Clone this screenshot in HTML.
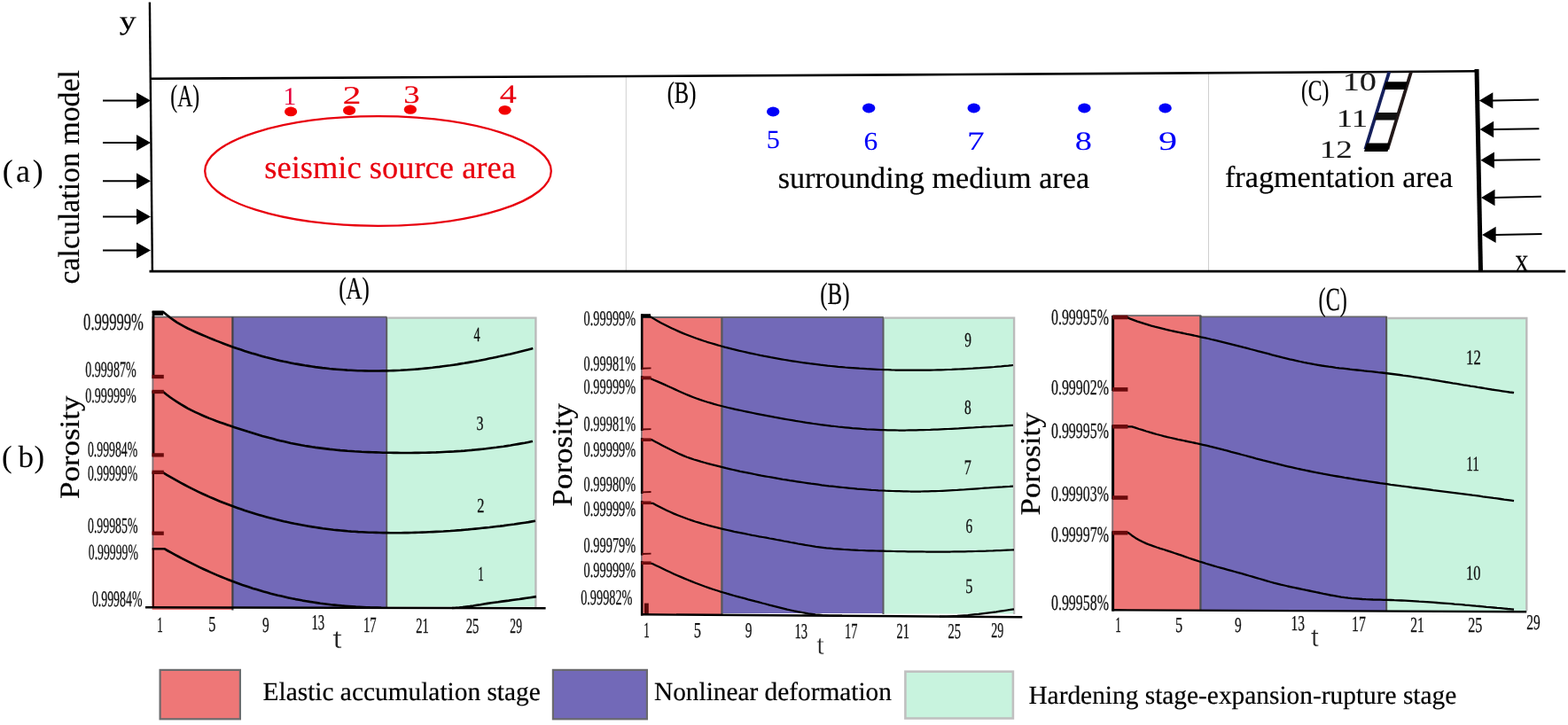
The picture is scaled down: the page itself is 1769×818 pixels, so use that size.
<!DOCTYPE html>
<html lang="en">
<head>
<meta charset="utf-8">
<title>Calculation model and porosity curves</title>
<style>
html,body{margin:0;padding:0;background:#fff;}
body{width:1769px;height:818px;overflow:hidden;font-family:"Liberation Serif",serif;}
svg{display:block;}
text{white-space:pre;text-rendering:geometricPrecision;}
</style>
</head>
<body>
<svg width="1769" height="818" viewBox="0 0 1769 818">
<rect x="0" y="0" width="1769" height="818" fill="#fff"/>
<g id="panel-a">
<line x1="706.3" y1="86" x2="706.3" y2="305" stroke="#cfcfcf" stroke-width="1" stroke-linecap="butt"/>
<line x1="1363.5" y1="82" x2="1363.5" y2="305" stroke="#cfcfcf" stroke-width="1" stroke-linecap="butt"/>
<line x1="168.9" y1="2.5" x2="171.9" y2="307" stroke="#000" stroke-width="2.4" stroke-linecap="butt"/>
<polyline points="170.5,88.8 620,86.5 1080,84 1540,81.2 1668,80.3" fill="none" stroke="#000" stroke-width="2.6"/>
<line x1="168.5" y1="306.2" x2="1766.2" y2="306.2" stroke="#000" stroke-width="2.8" stroke-linecap="butt"/>
<line x1="1666" y1="78" x2="1670.5" y2="307" stroke="#000" stroke-width="5" stroke-linecap="butt"/>
<line x1="116" y1="113.5" x2="155" y2="113.5" stroke="#000" stroke-width="2" stroke-linecap="butt"/>
<polygon points="170,113.5 154,104.5 154,122.5" fill="#000"/>
<line x1="116" y1="161" x2="155" y2="161" stroke="#000" stroke-width="2" stroke-linecap="butt"/>
<polygon points="170,161 154,152 154,170" fill="#000"/>
<line x1="116" y1="204.3" x2="155" y2="204.3" stroke="#000" stroke-width="2" stroke-linecap="butt"/>
<polygon points="170,204.3 154,195.3 154,213.3" fill="#000"/>
<line x1="116" y1="244.5" x2="155" y2="244.5" stroke="#000" stroke-width="2" stroke-linecap="butt"/>
<polygon points="170,244.5 154,235.5 154,253.5" fill="#000"/>
<line x1="116" y1="282.5" x2="155" y2="282.5" stroke="#000" stroke-width="2" stroke-linecap="butt"/>
<polygon points="170,282.5 154,273.5 154,291.5" fill="#000"/>
<line x1="1683.3" y1="113.4" x2="1736" y2="112.4" stroke="#000" stroke-width="2" stroke-linecap="butt"/>
<polygon points="1668.8,113.4 1684.3,104.2 1684.3,122.60000000000001" fill="#000"/>
<line x1="1684.1" y1="146" x2="1736.4" y2="145.2" stroke="#000" stroke-width="2" stroke-linecap="butt"/>
<polygon points="1669.6,146 1685.1,136.8 1685.1,155.2" fill="#000"/>
<line x1="1684.9" y1="180.8" x2="1737.5" y2="180" stroke="#000" stroke-width="2" stroke-linecap="butt"/>
<polygon points="1670.4,180.8 1685.9,171.60000000000002 1685.9,190.0" fill="#000"/>
<line x1="1685.5" y1="223" x2="1738.8" y2="221.8" stroke="#000" stroke-width="2" stroke-linecap="butt"/>
<polygon points="1671.0,223 1686.5,213.8 1686.5,232.2" fill="#000"/>
<line x1="1686.6" y1="264.9" x2="1739.5" y2="263.9" stroke="#000" stroke-width="2" stroke-linecap="butt"/>
<polygon points="1672.1,264.9 1687.6,255.7 1687.6,274.09999999999997" fill="#000"/>
<text transform="translate(134.63 33.33) scale(1.2735 1)" font-family='"Liberation Serif", serif' font-size="29.63" fill="#000" stroke="#000" stroke-width="0.2">y</text>
<text transform="translate(1709.37 305.60) scale(0.8041 1)" font-family='"Liberation Serif", serif' font-size="37.83" fill="#000" stroke="#000" stroke-width="0.2">x</text>
<text transform="translate(0 205.20) scale(1.0000 1)" x="2.87 17.94 36.83" y="0" font-family='"Liberation Serif", serif' font-size="36.00" fill="#000" stroke="#000" stroke-width="0.05">(a)</text>
<text transform="translate(88.50 320.47) rotate(-90)" font-family='"Liberation Serif", serif' font-size="33.83" fill="#000" stroke="#000" stroke-width="0.2">calculation model</text>
<text transform="translate(192.30 119.51) scale(0.6706 1)" font-family='"Liberation Serif", serif' font-size="35.26" fill="#000" stroke="#000" stroke-width="0.2">(A)</text>
<text transform="translate(319.42 117.80) scale(1.0469 1)" font-family='"Liberation Serif", serif' font-size="28.18" fill="#e6003a" stroke="#e6003a" stroke-width="0.1">1</text>
<text transform="translate(386.42 116.60) scale(1.4640 1)" font-family='"Liberation Serif", serif' font-size="28.68" fill="#e8000e" stroke="#e8000e" stroke-width="0.1">2</text>
<text transform="translate(455.15 115.52) scale(1.3042 1)" font-family='"Liberation Serif", serif' font-size="28.25" fill="#e8000e" stroke="#e8000e" stroke-width="0.1">3</text>
<text transform="translate(563.73 115.60) scale(1.2841 1)" font-family='"Liberation Serif", serif' font-size="29.81" fill="#e8000e" stroke="#e8000e" stroke-width="0.1">4</text>
<ellipse cx="328.1" cy="125.9" rx="7.1" ry="5.3" fill="#f20000"/>
<ellipse cx="394.1" cy="124.6" rx="7.1" ry="5.3" fill="#f20000"/>
<ellipse cx="462.9" cy="123.5" rx="7.1" ry="5.3" fill="#f20000"/>
<ellipse cx="569.6" cy="124.3" rx="7.1" ry="5.3" fill="#f20000"/>
<ellipse cx="426.5" cy="193" rx="195.3" ry="61.8" fill="none" stroke="#e8000e" stroke-width="2.3"/>
<text x="298.24" y="200.60" font-family='"Liberation Serif", serif' font-size="36.49" fill="#e8000e" stroke="#e8000e" stroke-width="0.2">seismic source area</text>
<text transform="translate(752.65 116.05) scale(0.7112 1)" font-family='"Liberation Serif", serif' font-size="34.60" fill="#000" stroke="#000" stroke-width="0.2">(B)</text>
<ellipse cx="872.2" cy="126" rx="7.2" ry="5.4" fill="#0000f8"/>
<ellipse cx="980.2" cy="122" rx="7.2" ry="5.4" fill="#0000f8"/>
<ellipse cx="1098.7" cy="122" rx="7.2" ry="5.4" fill="#0000f8"/>
<ellipse cx="1223.4" cy="122" rx="7.2" ry="5.4" fill="#0000f8"/>
<ellipse cx="1314.6" cy="122" rx="7.2" ry="5.4" fill="#0000f8"/>
<text transform="translate(864.76 167.31) scale(1.0284 1)" font-family='"Liberation Serif", serif' font-size="29.47" fill="#0000f8" stroke="#0000f8" stroke-width="0.05">5</text>
<text transform="translate(974.46 168.71) scale(1.0835 1)" font-family='"Liberation Serif", serif' font-size="29.14" fill="#0000f8" stroke="#0000f8" stroke-width="0.05">6</text>
<text transform="translate(1090.93 169.00) scale(1.3203 1)" font-family='"Liberation Serif", serif' font-size="29.92" fill="#0000f8" stroke="#0000f8" stroke-width="0.05">7</text>
<text transform="translate(1212.86 168.70) scale(1.2944 1)" font-family='"Liberation Serif", serif' font-size="29.63" fill="#0000f8" stroke="#0000f8" stroke-width="0.05">8</text>
<text transform="translate(1307.03 168.70) scale(1.4158 1)" font-family='"Liberation Serif", serif' font-size="29.74" fill="#0000f8" stroke="#0000f8" stroke-width="0.05">9</text>
<text x="877.63" y="211.80" font-family='"Liberation Serif", serif' font-size="34.21" fill="#000" stroke="#000" stroke-width="0.2">surrounding medium area</text>
<text transform="translate(1468.00 113.40) scale(0.7129 1)" font-family='"Liberation Serif", serif' font-size="32.95" fill="#000" stroke="#000" stroke-width="0.2">(C)</text>
<text transform="translate(1514.64 102.41) scale(1.3157 1)" font-family='"Liberation Serif", serif' font-size="29.19" fill="#1a1a1a" stroke="#1a1a1a" stroke-width="0.1">10</text>
<text transform="translate(1507.78 142.50) scale(1.3062 1)" font-family='"Liberation Serif", serif' font-size="28.18" fill="#1a1a1a" stroke="#1a1a1a" stroke-width="0.1">11</text>
<text transform="translate(1488.76 177.50) scale(1.3209 1)" font-family='"Liberation Serif", serif' font-size="28.08" fill="#1a1a1a" stroke="#1a1a1a" stroke-width="0.1">12</text>
<line x1="1567.3" y1="81" x2="1540.3" y2="168.5" stroke="#15205c" stroke-width="3.8"/>
<line x1="1592" y1="81" x2="1565.3" y2="168.5" stroke="#221818" stroke-width="3.8"/>
<polygon points="1563.5,92.3 1588,92.3 1585.5,101 1561,101" fill="#000"/>
<polygon points="1553,127 1577,127 1574.5,135.5 1550.5,135.5" fill="#111"/>
<polygon points="1542,161.4 1568,161.4 1565.5,171 1539,171" fill="#000"/>
<text x="1381.97" y="210.80" font-family='"Liberation Serif", serif' font-size="34.18" fill="#000" stroke="#000" stroke-width="0.2">fragmentation area</text>
</g>
<text transform="translate(0 527.30) scale(1.0000 1)" x="2.11 20.50 38.46" y="0" font-family='"Liberation Serif", serif' font-size="35.00" fill="#000" stroke="#000" stroke-width="0.05">(b)</text>
<g id="chart-a">
<rect x="171.6" y="357.3" width="90.70" height="330.70" fill="#ee7777"/>
<rect x="262.3" y="357.7" width="174.20" height="327.80" fill="#7269b8"/>
<rect x="436.5" y="358.2" width="168.20" height="326.30" fill="#c8f3de"/>
<line x1="171.7" y1="357.6" x2="436.5" y2="357.6" stroke="#66666a" stroke-width="1.8" stroke-linecap="butt"/>
<line x1="172.5" y1="357.5" x2="172.5" y2="686" stroke="#7c7478" stroke-width="1.7" stroke-linecap="butt"/>
<line x1="262.4" y1="357.5" x2="262.4" y2="688.5" stroke="#424246" stroke-width="2.2" stroke-linecap="butt"/>
<line x1="436.2" y1="357.7" x2="436.2" y2="686" stroke="#5c5c60" stroke-width="2.0" stroke-linecap="butt"/>
<polyline points="437.3,358.6 604.4,358.6 604.4,685" fill="none" stroke="#bbbbbb" stroke-width="2.4"/>
<line x1="173.0" y1="351" x2="173.0" y2="427" stroke="#000" stroke-width="2.8" stroke-linecap="butt"/>
<line x1="173.0" y1="441" x2="173.0" y2="515" stroke="#000" stroke-width="2.8" stroke-linecap="butt"/>
<line x1="172.9" y1="533" x2="172.9" y2="603" stroke="#3a0606" stroke-width="2.2" stroke-linecap="butt"/>
<line x1="172.9" y1="619" x2="172.9" y2="686" stroke="#4a0808" stroke-width="2.2" stroke-linecap="butt"/>
<path d="M171.7 351.7 L183.8 351.7 187.8 355.1 191.8 358.3 195.8 361.1 199.8 363.8 203.8 366.2 207.8 368.4 211.8 370.5 215.8 372.4 219.8 374.2 223.8 376.0 227.8 377.7 231.8 379.4 235.8 381.1 239.8 382.7 243.8 384.4 247.8 385.9 251.8 387.5 255.8 389.0 259.8 390.5 263.8 391.9 267.8 393.3 271.8 394.6 275.8 396.0 279.8 397.2 283.8 398.5 287.8 399.6 291.8 400.8 295.8 401.9 299.8 403.0 303.8 404.0 307.8 405.0 311.8 406.0 315.8 406.9 319.8 407.8 323.8 408.6 327.8 409.4 331.8 410.2 335.8 410.9 339.8 411.6 343.8 412.3 347.8 412.9 351.8 413.5 355.8 414.1 359.8 414.6 363.8 415.1 367.8 415.5 371.8 416.0 375.8 416.4 379.8 416.7 383.8 417.0 387.8 417.3 391.8 417.6 395.8 417.8 399.8 418.0 403.8 418.2 407.8 418.3 411.8 418.4 415.8 418.5 419.8 418.5 423.8 418.5 427.8 418.5 431.8 418.4 435.8 418.4 439.8 418.3 443.8 418.1 447.8 418.0 451.8 417.8 455.8 417.5 459.8 417.3 463.8 417.0 467.8 416.7 471.8 416.4 475.8 416.0 479.8 415.6 483.8 415.2 487.8 414.8 491.8 414.3 495.8 413.9 499.8 413.3 503.8 412.8 507.8 412.3 511.8 411.7 515.8 411.1 519.8 410.4 523.8 409.8 527.8 409.1 531.8 408.4 535.8 407.7 539.8 407.0 543.8 406.2 547.8 405.4 551.8 404.6 555.8 403.8 559.8 402.9 563.8 402.1 567.8 401.2 571.8 400.3 575.8 399.4 579.8 398.4 583.8 397.5 587.8 396.5 591.8 395.5 595.8 394.5 599.8 393.4 601.3 393.0" fill="none" stroke="#000" stroke-width="2.6" stroke-linejoin="round"/>
<path d="M171.7 442.0 L184.0 442.0 188.0 445.2 192.0 448.2 196.0 451.0 200.0 453.7 204.0 456.2 208.0 458.5 212.0 460.8 216.0 462.9 220.0 464.8 224.0 466.7 228.0 468.5 232.0 470.2 236.0 471.9 240.0 473.4 244.0 475.0 248.0 476.4 252.0 477.8 256.0 479.2 260.0 480.6 264.0 481.9 268.0 483.2 272.0 484.5 276.0 485.8 280.0 487.1 284.0 488.3 288.0 489.5 292.0 490.7 296.0 491.9 300.0 493.0 304.0 494.1 308.0 495.1 312.0 496.2 316.0 497.2 320.0 498.1 324.0 499.0 328.0 499.9 332.0 500.7 336.0 501.5 340.0 502.3 344.0 503.0 348.0 503.6 352.0 504.3 356.0 504.9 360.0 505.4 364.0 505.9 368.0 506.4 372.0 506.9 376.0 507.3 380.0 507.7 384.0 508.1 388.0 508.4 392.0 508.8 396.0 509.0 400.0 509.3 404.0 509.5 408.0 509.8 412.0 510.0 416.0 510.1 420.0 510.3 424.0 510.4 428.0 510.5 432.0 510.7 436.0 510.7 440.0 510.8 444.0 510.9 448.0 510.9 452.0 511.0 456.0 511.0 460.0 511.0 464.0 511.0 468.0 510.9 472.0 510.9 476.0 510.8 480.0 510.7 484.0 510.6 488.0 510.5 492.0 510.4 496.0 510.2 500.0 510.0 504.0 509.8 508.0 509.6 512.0 509.4 516.0 509.1 520.0 508.9 524.0 508.6 528.0 508.2 532.0 507.9 536.0 507.5 540.0 507.1 544.0 506.7 548.0 506.3 552.0 505.8 556.0 505.3 560.0 504.8 564.0 504.2 568.0 503.7 572.0 503.1 576.0 502.5 580.0 501.8 584.0 501.1 588.0 500.4 592.0 499.7 596.0 498.9 600.0 498.1 601.0 497.9" fill="none" stroke="#000" stroke-width="2.6" stroke-linejoin="round"/>
<path d="M171.7 533.2 L184.2 533.4 188.2 535.8 192.2 538.1 196.2 540.4 200.2 542.7 204.2 544.9 208.2 547.0 212.2 549.1 216.2 551.2 220.2 553.1 224.2 555.1 228.2 557.0 232.2 558.8 236.2 560.6 240.2 562.3 244.2 564.0 248.2 565.7 252.2 567.3 256.2 568.8 260.2 570.3 264.2 571.8 268.2 573.2 272.2 574.6 276.2 576.0 280.2 577.3 284.2 578.5 288.2 579.8 292.2 580.9 296.2 582.1 300.2 583.2 304.2 584.3 308.2 585.3 312.2 586.3 316.2 587.2 320.2 588.2 324.2 589.1 328.2 589.9 332.2 590.8 336.2 591.5 340.2 592.3 344.2 593.0 348.2 593.7 352.2 594.4 356.2 595.0 360.2 595.6 364.2 596.2 368.2 596.7 372.2 597.2 376.2 597.7 380.2 598.1 384.2 598.5 388.2 598.9 392.2 599.3 396.2 599.6 400.2 599.8 404.2 600.1 408.2 600.3 412.2 600.5 416.2 600.7 420.2 600.8 424.2 600.9 428.2 601.0 432.2 601.1 436.2 601.1 440.2 601.2 444.2 601.2 448.2 601.2 452.2 601.2 456.2 601.1 460.2 601.1 464.2 601.0 468.2 600.9 472.2 600.8 476.2 600.6 480.2 600.5 484.2 600.3 488.2 600.1 492.2 599.9 496.2 599.7 500.2 599.5 504.2 599.2 508.2 599.0 512.2 598.7 516.2 598.4 520.2 598.1 524.2 597.7 528.2 597.4 532.2 597.0 536.2 596.6 540.2 596.2 544.2 595.8 548.2 595.4 552.2 595.0 556.2 594.5 560.2 594.0 564.2 593.6 568.2 593.1 572.2 592.5 576.2 592.0 580.2 591.5 584.2 590.9 588.2 590.3 592.2 589.7 596.2 589.1 600.2 588.4 604.0 587.8" fill="none" stroke="#000" stroke-width="2.6" stroke-linejoin="round"/>
<path d="M171.7 619.2 L185.4 619.2 189.4 621.5 193.4 623.7 197.4 625.9 201.4 628.0 205.4 630.1 209.4 632.2 213.4 634.2 217.4 636.2 221.4 638.2 225.4 640.1 229.4 642.0 233.4 643.8 237.4 645.6 241.4 647.4 245.4 649.1 249.4 650.7 253.4 652.4 257.4 654.0 261.4 655.5 265.4 657.0 269.4 658.5 273.4 659.9 277.4 661.2 281.4 662.6 285.4 663.9 289.4 665.1 293.4 666.3 297.4 667.5 301.4 668.6 305.4 669.7 309.4 670.7 313.4 671.7 317.4 672.6 321.4 673.5 325.4 674.4 329.4 675.3 333.4 676.1 337.4 676.8 341.4 677.6 345.4 678.2 349.4 678.9 353.4 679.5 357.4 680.1 361.4 680.7 365.4 681.2 369.4 681.7 373.4 682.2 377.4 682.6 381.4 683.0 385.4 683.4 389.4 683.7 393.4 684.0 397.4 684.3 401.4 684.6 405.4 684.8 409.4 685.0 413.4 685.2 417.4 685.4 421.4 685.5 425.4 685.6 429.4 685.7 430.0 685.8" fill="none" stroke="#000" stroke-width="2.6" stroke-linejoin="round"/>
<path d="M510.0 686.0 514.0 685.8 518.0 685.5 522.0 685.1 526.0 684.6 530.0 684.1 534.0 683.5 538.0 682.8 542.0 682.2 546.0 681.5 550.0 680.9 554.0 680.3 558.0 679.7 562.0 679.2 566.0 678.6 570.0 678.1 574.0 677.6 578.0 677.0 582.0 676.5 586.0 676.0 590.0 675.4 594.0 674.8 598.0 674.2 602.0 673.6 605.0 673.1" fill="none" stroke="#000" stroke-width="2.6" stroke-linejoin="round"/>
<line x1="172" y1="353.6" x2="184.2" y2="353.6" stroke="#000" stroke-width="4.4" stroke-linecap="butt"/>
<line x1="171.6" y1="425" x2="184.8" y2="425" stroke="#6a0a0c" stroke-width="4.3" stroke-linecap="butt"/>
<line x1="171.6" y1="442" x2="184.8" y2="442" stroke="#6a0a0c" stroke-width="4.3" stroke-linecap="butt"/>
<line x1="171.6" y1="513.4" x2="184.8" y2="513.4" stroke="#6a0a0c" stroke-width="4.3" stroke-linecap="butt"/>
<line x1="171.6" y1="532.8" x2="184.8" y2="532.8" stroke="#6a0a0c" stroke-width="4.3" stroke-linecap="butt"/>
<line x1="171.6" y1="601.7" x2="184.8" y2="601.7" stroke="#6a0a0c" stroke-width="4.3" stroke-linecap="butt"/>
<line x1="164" y1="685.3" x2="615.6" y2="686.2" stroke="#000" stroke-width="2.4" stroke-linecap="butt"/>
<text transform="translate(94.08 371.70) scale(0.6177 1)" font-family='"Liberation Serif", serif' font-size="26.91" fill="#111" stroke="#111" stroke-width="0.3">0.99999%</text>
<text transform="translate(96.17 424.63) scale(0.5676 1)" font-family='"Liberation Serif", serif' font-size="24.85" fill="#111" stroke="#111" stroke-width="0.3">0.99987%</text>
<text transform="translate(96.17 454.04) scale(0.5931 1)" font-family='"Liberation Serif", serif' font-size="23.82" fill="#111" stroke="#111" stroke-width="0.3">0.99999%</text>
<text transform="translate(98.98 514.63) scale(0.5635 1)" font-family='"Liberation Serif", serif' font-size="24.41" fill="#111" stroke="#111" stroke-width="0.3">0.99984%</text>
<text transform="translate(98.98 542.13) scale(0.5602 1)" font-family='"Liberation Serif", serif' font-size="24.56" fill="#111" stroke="#111" stroke-width="0.3">0.99999%</text>
<text transform="translate(98.98 600.53) scale(0.5666 1)" font-family='"Liberation Serif", serif' font-size="24.41" fill="#111" stroke="#111" stroke-width="0.3">0.99985%</text>
<text transform="translate(99.78 631.43) scale(0.5568 1)" font-family='"Liberation Serif", serif' font-size="24.71" fill="#111" stroke="#111" stroke-width="0.3">0.99999%</text>
<text transform="translate(103.88 683.82) scale(0.5478 1)" font-family='"Liberation Serif", serif' font-size="25.29" fill="#111" stroke="#111" stroke-width="0.3">0.99984%</text>
<text transform="translate(177.36 712.50) scale(0.5317 1)" font-family='"Liberation Serif", serif' font-size="24.55" fill="#111" stroke="#111" stroke-width="0.3">1</text>
<text transform="translate(235.16 712.26) scale(0.6731 1)" font-family='"Liberation Serif", serif' font-size="24.36" fill="#111" stroke="#111" stroke-width="0.3">5</text>
<text transform="translate(296.00 712.56) scale(0.6409 1)" font-family='"Liberation Serif", serif' font-size="24.09" fill="#111" stroke="#111" stroke-width="0.3">9</text>
<text transform="translate(351.40 709.86) scale(0.6185 1)" font-family='"Liberation Serif", serif' font-size="24.09" fill="#111" stroke="#111" stroke-width="0.3">13</text>
<text transform="translate(410.01 712.50) scale(0.5985 1)" font-family='"Liberation Serif", serif' font-size="24.55" fill="#111" stroke="#111" stroke-width="0.3">17</text>
<text transform="translate(469.28 713.90) scale(0.5969 1)" font-family='"Liberation Serif", serif' font-size="24.45" fill="#111" stroke="#111" stroke-width="0.3">21</text>
<text transform="translate(525.77 713.66) scale(0.6108 1)" font-family='"Liberation Serif", serif' font-size="24.09" fill="#111" stroke="#111" stroke-width="0.3">25</text>
<text transform="translate(575.32 713.66) scale(0.5656 1)" font-family='"Liberation Serif", serif' font-size="24.09" fill="#111" stroke="#111" stroke-width="0.3">29</text>
<text transform="translate(534.42 384.70) scale(0.6140 1)" font-family='"Liberation Serif", serif' font-size="23.12" fill="#111" stroke="#111" stroke-width="0.3">4</text>
<text transform="translate(537.44 484.87) scale(0.7079 1)" font-family='"Liberation Serif", serif' font-size="22.60" fill="#111" stroke="#111" stroke-width="0.3">3</text>
<text transform="translate(538.20 578.00) scale(0.7147 1)" font-family='"Liberation Serif", serif' font-size="22.94" fill="#111" stroke="#111" stroke-width="0.3">2</text>
<text transform="translate(539.36 655.40) scale(0.5666 1)" font-family='"Liberation Serif", serif' font-size="23.03" fill="#111" stroke="#111" stroke-width="0.3">1</text>
<text transform="translate(375.06 730.53) scale(1.3397 1)" font-family='"Liberation Sans", sans-serif' font-size="29.27" fill="#222" stroke="#fff" stroke-width="0.7">t</text>
<text transform="translate(382.14 337.15) scale(0.7099 1)" font-family='"Liberation Serif", serif' font-size="35.04" fill="#000" stroke="#000" stroke-width="0.2">(A)</text>
<text transform="translate(89.00 563.06) rotate(-90) scale(1.1166 1)" font-family='"Liberation Serif", serif' font-size="31.30" fill="#000" stroke="#000" stroke-width="0.2">Porosity</text>
</g>
<g id="chart-b">
<rect x="723.0" y="357.9" width="91.40" height="335.60" fill="#ee7777"/>
<rect x="814.4" y="358" width="182.40" height="334.00" fill="#7269b8"/>
<rect x="996.8" y="358" width="147.90" height="334.50" fill="#c8f3de"/>
<line x1="724.3" y1="358" x2="996.8" y2="358" stroke="#66666a" stroke-width="1.8" stroke-linecap="butt"/>
<line x1="723.9" y1="358" x2="723.9" y2="693" stroke="#7c7478" stroke-width="1.7" stroke-linecap="butt"/>
<line x1="814.4" y1="358" x2="814.4" y2="693" stroke="#58585c" stroke-width="2.3" stroke-linecap="butt"/>
<line x1="996.5" y1="358" x2="996.5" y2="693" stroke="#5c5c60" stroke-width="2.0" stroke-linecap="butt"/>
<polyline points="997.5,358.6 1144.1,358.6 1144.1,693" fill="none" stroke="#bbbbbb" stroke-width="2.4"/>
<line x1="724.2" y1="354.4" x2="724.2" y2="417" stroke="#000" stroke-width="2.6" stroke-linecap="butt"/>
<line x1="724.2" y1="424" x2="724.2" y2="486" stroke="#000" stroke-width="2.6" stroke-linecap="butt"/>
<line x1="724.2" y1="494" x2="724.2" y2="557" stroke="#000" stroke-width="2.6" stroke-linecap="butt"/>
<line x1="724.2" y1="565" x2="724.2" y2="626.5" stroke="#000" stroke-width="2.6" stroke-linecap="butt"/>
<line x1="724.2" y1="633" x2="724.2" y2="694.5" stroke="#000" stroke-width="2.6" stroke-linecap="butt"/>
<path d="M724.0 357.0 L733.6 357.2 737.6 359.6 741.6 361.9 745.6 364.2 749.6 366.3 753.6 368.3 757.6 370.2 761.6 372.1 765.6 373.9 769.6 375.6 773.6 377.2 777.6 378.8 781.6 380.3 785.6 381.7 789.6 383.1 793.6 384.5 797.6 385.8 801.6 387.0 805.6 388.2 809.6 389.4 813.6 390.5 817.6 391.6 821.6 392.6 825.6 393.7 829.6 394.6 833.6 395.6 837.6 396.5 841.6 397.4 845.6 398.3 849.6 399.2 853.6 400.0 857.6 400.9 861.6 401.7 865.6 402.4 869.6 403.2 873.6 403.9 877.6 404.6 881.6 405.3 885.6 406.0 889.6 406.7 893.6 407.3 897.6 407.9 901.6 408.5 905.6 409.1 909.6 409.6 913.6 410.2 917.6 410.7 921.6 411.2 925.6 411.7 929.6 412.1 933.6 412.6 937.6 413.0 941.6 413.4 945.6 413.8 949.6 414.1 953.6 414.5 957.6 414.8 961.6 415.1 965.6 415.4 969.6 415.7 973.6 415.9 977.6 416.2 981.6 416.4 985.6 416.6 989.6 416.8 993.6 417.0 997.6 417.1 1001.6 417.2 1005.6 417.4 1009.6 417.5 1013.6 417.5 1017.6 417.6 1021.6 417.7 1025.6 417.7 1029.6 417.7 1033.6 417.7 1037.6 417.7 1041.6 417.7 1045.6 417.6 1049.6 417.6 1053.6 417.5 1057.6 417.4 1061.6 417.3 1065.6 417.2 1069.6 417.0 1073.6 416.9 1077.6 416.7 1081.6 416.5 1085.6 416.3 1089.6 416.1 1093.6 415.9 1097.6 415.7 1101.6 415.4 1105.6 415.2 1109.6 414.9 1113.6 414.6 1117.6 414.3 1121.6 414.0 1125.6 413.6 1129.6 413.3 1133.6 412.9 1137.6 412.6 1141.6 412.2 1143.0 412.0" fill="none" stroke="#000" stroke-width="2.25" stroke-linejoin="round"/>
<path d="M724.0 427.0 L733.6 427.0 737.6 428.7 741.6 430.4 745.6 432.1 749.6 433.9 753.6 435.7 757.6 437.6 761.6 439.4 765.6 441.2 769.6 443.0 773.6 444.7 777.6 446.4 781.6 448.0 785.6 449.5 789.6 450.9 793.6 452.2 797.6 453.5 801.6 454.7 805.6 455.9 809.6 457.0 813.6 458.0 817.6 459.0 821.6 460.0 825.6 460.9 829.6 461.8 833.6 462.7 837.6 463.5 841.6 464.3 845.6 465.2 849.6 466.0 853.6 466.8 857.6 467.6 861.6 468.4 865.6 469.2 869.6 469.9 873.6 470.7 877.6 471.4 881.6 472.1 885.6 472.8 889.6 473.5 893.6 474.2 897.6 474.9 901.6 475.5 905.6 476.2 909.6 476.8 913.6 477.4 917.6 478.0 921.6 478.5 925.6 479.1 929.6 479.6 933.6 480.1 937.6 480.6 941.6 481.0 945.6 481.5 949.6 481.9 953.6 482.3 957.6 482.7 961.6 483.1 965.6 483.4 969.6 483.7 973.6 484.0 977.6 484.3 981.6 484.5 985.6 484.7 989.6 484.9 993.6 485.1 997.6 485.2 1001.6 485.3 1005.6 485.4 1009.6 485.4 1013.6 485.5 1017.6 485.5 1021.6 485.5 1025.6 485.4 1029.6 485.4 1033.6 485.3 1037.6 485.2 1041.6 485.1 1045.6 485.0 1049.6 484.9 1053.6 484.7 1057.6 484.6 1061.6 484.4 1065.6 484.2 1069.6 484.0 1073.6 483.8 1077.6 483.6 1081.6 483.4 1085.6 483.1 1089.6 482.9 1093.6 482.7 1097.6 482.5 1101.6 482.2 1105.6 482.0 1109.6 481.7 1113.6 481.5 1117.6 481.3 1121.6 481.0 1125.6 480.8 1129.6 480.6 1133.6 480.4 1137.6 480.1 1141.6 479.9 1143.0 479.9" fill="none" stroke="#000" stroke-width="2.25" stroke-linejoin="round"/>
<path d="M724.0 496.1 L735.0 496.1 739.0 498.2 743.0 500.3 747.0 502.4 751.0 504.5 755.0 506.6 759.0 508.6 763.0 510.5 767.0 512.4 771.0 514.1 775.0 515.7 779.0 517.1 783.0 518.5 787.0 519.7 791.0 520.9 795.0 522.0 799.0 523.1 803.0 524.2 807.0 525.2 811.0 526.2 815.0 527.2 819.0 528.2 823.0 529.1 827.0 530.0 831.0 530.9 835.0 531.8 839.0 532.6 843.0 533.4 847.0 534.2 851.0 535.0 855.0 535.8 859.0 536.6 863.0 537.3 867.0 538.0 871.0 538.7 875.0 539.4 879.0 540.1 883.0 540.8 887.0 541.4 891.0 542.1 895.0 542.7 899.0 543.3 903.0 543.9 907.0 544.5 911.0 545.1 915.0 545.7 919.0 546.2 923.0 546.7 927.0 547.3 931.0 547.8 935.0 548.3 939.0 548.7 943.0 549.2 947.0 549.6 951.0 550.0 955.0 550.4 959.0 550.8 963.0 551.2 967.0 551.6 971.0 551.9 975.0 552.2 979.0 552.5 983.0 552.8 987.0 553.0 991.0 553.3 995.0 553.5 999.0 553.7 1003.0 553.8 1007.0 554.0 1011.0 554.1 1015.0 554.2 1019.0 554.3 1023.0 554.4 1027.0 554.5 1031.0 554.5 1035.0 554.5 1039.0 554.5 1043.0 554.4 1047.0 554.3 1051.0 554.2 1055.0 554.1 1059.0 554.0 1063.0 553.8 1067.0 553.6 1071.0 553.4 1075.0 553.2 1079.0 553.0 1083.0 552.7 1087.0 552.5 1091.0 552.2 1095.0 551.9 1099.0 551.6 1103.0 551.3 1107.0 551.0 1111.0 550.7 1115.0 550.5 1119.0 550.2 1123.0 549.9 1127.0 549.6 1131.0 549.4 1135.0 549.1 1139.0 548.9 1143.0 548.6" fill="none" stroke="#000" stroke-width="2.25" stroke-linejoin="round"/>
<path d="M724.0 567.8 L736.4 567.8 740.4 570.0 744.4 572.1 748.4 574.1 752.4 576.0 756.4 577.8 760.4 579.6 764.4 581.2 768.4 582.8 772.4 584.3 776.4 585.8 780.4 587.1 784.4 588.5 788.4 589.7 792.4 590.9 796.4 592.0 800.4 593.1 804.4 594.2 808.4 595.2 812.4 596.2 816.4 597.1 820.4 598.0 824.4 598.9 828.4 599.8 832.4 600.6 836.4 601.4 840.4 602.2 844.4 603.0 848.4 603.8 852.4 604.5 856.4 605.3 860.4 606.0 864.4 606.7 868.4 607.5 872.4 608.2 876.4 609.0 880.4 609.7 884.4 610.5 888.4 611.2 892.4 612.0 896.4 612.7 900.4 613.5 904.4 614.2 908.4 614.9 912.4 615.5 916.4 616.2 920.4 616.8 924.4 617.3 928.4 617.8 932.4 618.3 936.4 618.7 940.4 619.1 944.4 619.4 948.4 619.7 952.4 620.0 956.4 620.2 960.4 620.5 964.4 620.7 968.4 620.9 972.4 621.0 976.4 621.2 980.4 621.3 984.4 621.4 988.4 621.5 992.4 621.6 996.4 621.7 1000.4 621.8 1004.4 621.9 1008.4 622.0 1012.4 622.1 1016.4 622.1 1020.4 622.2 1024.4 622.3 1028.4 622.3 1032.4 622.4 1036.4 622.4 1040.4 622.4 1044.4 622.5 1048.4 622.5 1052.4 622.5 1056.4 622.5 1060.4 622.5 1064.4 622.5 1068.4 622.5 1072.4 622.5 1076.4 622.4 1080.4 622.4 1084.4 622.3 1088.4 622.3 1092.4 622.2 1096.4 622.1 1100.4 622.0 1104.4 621.9 1108.4 621.8 1112.4 621.7 1116.4 621.5 1120.4 621.4 1124.4 621.2 1128.4 621.1 1132.4 620.9 1136.4 620.7 1140.4 620.5 1144.0 620.3" fill="none" stroke="#000" stroke-width="2.25" stroke-linejoin="round"/>
<path d="M724.0 635.9 L736.0 635.9 740.0 637.9 744.0 639.8 748.0 641.8 752.0 643.7 756.0 645.5 760.0 647.4 764.0 649.2 768.0 650.9 772.0 652.6 776.0 654.3 780.0 655.9 784.0 657.5 788.0 659.0 792.0 660.5 796.0 662.0 800.0 663.4 804.0 664.7 808.0 666.0 812.0 667.3 816.0 668.5 820.0 669.7 824.0 670.8 828.0 672.0 832.0 673.1 836.0 674.2 840.0 675.2 844.0 676.3 848.0 677.3 852.0 678.4 856.0 679.4 860.0 680.5 864.0 681.5 868.0 682.6 872.0 683.6 876.0 684.6 880.0 685.6 884.0 686.6 888.0 687.6 892.0 688.5 896.0 689.4 900.0 690.2 904.0 690.9 908.0 691.6 912.0 692.3 916.0 692.8 920.0 693.3 924.0 693.7 928.0 694.1 932.0 694.3 936.0 694.5 940.0 694.6 944.0 694.6 948.0 694.5 950.0 694.5" fill="none" stroke="#000" stroke-width="2.25" stroke-linejoin="round"/>
<path d="M1060.0 695.6 1064.0 695.6 1068.0 695.5 1072.0 695.3 1076.0 695.1 1080.0 694.9 1084.0 694.6 1088.0 694.3 1092.0 694.0 1096.0 693.6 1100.0 693.2 1104.0 692.8 1108.0 692.3 1112.0 691.8 1116.0 691.3 1120.0 690.8 1124.0 690.3 1128.0 689.7 1132.0 689.1 1136.0 688.5 1140.0 687.9 1144.0 687.3" fill="none" stroke="#000" stroke-width="2.25" stroke-linejoin="round"/>
<line x1="723.3" y1="356.4" x2="734" y2="356.4" stroke="#000" stroke-width="4.4" stroke-linecap="butt"/>
<line x1="724" y1="415.8" x2="734.5" y2="415.40000000000003" stroke="#5c0608" stroke-width="1.9" stroke-linecap="butt"/>
<line x1="724" y1="484.5" x2="734.5" y2="484.1" stroke="#5c0608" stroke-width="1.9" stroke-linecap="butt"/>
<line x1="724" y1="555.4000000000001" x2="734.5" y2="555.0" stroke="#5c0608" stroke-width="1.9" stroke-linecap="butt"/>
<line x1="724" y1="625.0" x2="734.5" y2="624.5999999999999" stroke="#5c0608" stroke-width="1.9" stroke-linecap="butt"/>
<line x1="723.6" y1="426.2" x2="734.6" y2="426.2" stroke="#700c0e" stroke-width="3.6" stroke-linecap="butt"/>
<line x1="723.6" y1="496.2" x2="734.6" y2="496.2" stroke="#700c0e" stroke-width="3.6" stroke-linecap="butt"/>
<line x1="723.6" y1="567.3" x2="734.6" y2="567.3" stroke="#700c0e" stroke-width="3.6" stroke-linecap="butt"/>
<line x1="723.6" y1="635.2" x2="734.6" y2="635.2" stroke="#700c0e" stroke-width="3.6" stroke-linecap="butt"/>
<line x1="729.4" y1="680.6" x2="729.4" y2="694" stroke="#5c0a0c" stroke-width="4.8" stroke-linecap="butt"/>
<line x1="723" y1="693.3" x2="1153.3" y2="696.2" stroke="#000" stroke-width="2.4" stroke-linecap="butt"/>
<text transform="translate(658.56 366.74) scale(0.6036 1)" font-family='"Liberation Serif", serif' font-size="23.82" fill="#111" stroke="#111" stroke-width="0.3">0.99999%</text>
<text transform="translate(658.56 418.04) scale(0.6036 1)" font-family='"Liberation Serif", serif' font-size="23.82" fill="#111" stroke="#111" stroke-width="0.3">0.99981%</text>
<text transform="translate(658.56 444.44) scale(0.6036 1)" font-family='"Liberation Serif", serif' font-size="23.82" fill="#111" stroke="#111" stroke-width="0.3">0.99999%</text>
<text transform="translate(658.56 486.14) scale(0.5999 1)" font-family='"Liberation Serif", serif' font-size="23.97" fill="#111" stroke="#111" stroke-width="0.3">0.99981%</text>
<text transform="translate(658.56 514.64) scale(0.5962 1)" font-family='"Liberation Serif", serif' font-size="24.12" fill="#111" stroke="#111" stroke-width="0.3">0.99999%</text>
<text transform="translate(658.56 554.04) scale(0.6036 1)" font-family='"Liberation Serif", serif' font-size="23.82" fill="#111" stroke="#111" stroke-width="0.3">0.99980%</text>
<text transform="translate(658.56 581.64) scale(0.5926 1)" font-family='"Liberation Serif", serif' font-size="24.26" fill="#111" stroke="#111" stroke-width="0.3">0.99999%</text>
<text transform="translate(658.56 623.14) scale(0.5926 1)" font-family='"Liberation Serif", serif' font-size="24.26" fill="#111" stroke="#111" stroke-width="0.3">0.99979%</text>
<text transform="translate(658.56 651.34) scale(0.5926 1)" font-family='"Liberation Serif", serif' font-size="24.26" fill="#111" stroke="#111" stroke-width="0.3">0.99999%</text>
<text transform="translate(655.16 681.74) scale(0.5885 1)" font-family='"Liberation Serif", serif' font-size="24.26" fill="#111" stroke="#111" stroke-width="0.3">0.99982%</text>
<text transform="translate(726.26 718.80) scale(0.5317 1)" font-family='"Liberation Serif", serif' font-size="24.55" fill="#111" stroke="#111" stroke-width="0.3">1</text>
<text transform="translate(782.76 718.86) scale(0.6731 1)" font-family='"Liberation Serif", serif' font-size="24.36" fill="#111" stroke="#111" stroke-width="0.3">5</text>
<text transform="translate(840.70 719.06) scale(0.6409 1)" font-family='"Liberation Serif", serif' font-size="24.09" fill="#111" stroke="#111" stroke-width="0.3">9</text>
<text transform="translate(896.52 719.86) scale(0.6090 1)" font-family='"Liberation Serif", serif' font-size="24.09" fill="#111" stroke="#111" stroke-width="0.3">13</text>
<text transform="translate(953.04 720.30) scale(0.5846 1)" font-family='"Liberation Serif", serif' font-size="24.55" fill="#111" stroke="#111" stroke-width="0.3">17</text>
<text transform="translate(1011.49 720.10) scale(0.5878 1)" font-family='"Liberation Serif", serif' font-size="24.45" fill="#111" stroke="#111" stroke-width="0.3">21</text>
<text transform="translate(1069.38 720.26) scale(0.6063 1)" font-family='"Liberation Serif", serif' font-size="24.09" fill="#111" stroke="#111" stroke-width="0.3">25</text>
<text transform="translate(1118.30 718.56) scale(0.5837 1)" font-family='"Liberation Serif", serif' font-size="24.09" fill="#111" stroke="#111" stroke-width="0.3">29</text>
<text transform="translate(1088.20 391.47) scale(0.6742 1)" font-family='"Liberation Serif", serif' font-size="22.90" fill="#111" stroke="#111" stroke-width="0.3">9</text>
<text transform="translate(1088.12 467.17) scale(0.6807 1)" font-family='"Liberation Serif", serif' font-size="22.81" fill="#111" stroke="#111" stroke-width="0.3">8</text>
<text transform="translate(1087.65 535.10) scale(0.6889 1)" font-family='"Liberation Serif", serif' font-size="23.51" fill="#111" stroke="#111" stroke-width="0.3">7</text>
<text transform="translate(1089.44 601.07) scale(0.6742 1)" font-family='"Liberation Serif", serif' font-size="22.90" fill="#111" stroke="#111" stroke-width="0.3">6</text>
<text transform="translate(1089.16 668.87) scale(0.7081 1)" font-family='"Liberation Serif", serif' font-size="23.16" fill="#111" stroke="#111" stroke-width="0.3">5</text>
<text transform="translate(920.65 738.14) scale(1.1885 1)" font-family='"Liberation Sans", sans-serif' font-size="28.05" fill="#222" stroke="#fff" stroke-width="0.7">t</text>
<text transform="translate(925.24 342.65) scale(0.7137 1)" font-family='"Liberation Serif", serif' font-size="35.04" fill="#000" stroke="#000" stroke-width="0.2">(B)</text>
<text transform="translate(645.00 571.46) rotate(-90) scale(1.0910 1)" font-family='"Liberation Serif", serif' font-size="32.06" fill="#000" stroke="#000" stroke-width="0.2">Porosity</text>
</g>
<g id="chart-c">
<rect x="1254.2" y="355.8" width="100.20" height="332.70" fill="#ee7777"/>
<rect x="1354.4" y="357" width="210.20" height="332.00" fill="#7269b8"/>
<rect x="1564.6" y="358.4" width="158.20" height="331.10" fill="#c8f3de"/>
<polyline points="1255.5,356.2 1354.4,356.2 1354.4,357.4 1564.6,357.4" fill="none" stroke="#66666a" stroke-width="1.8"/>
<line x1="1255.3" y1="356" x2="1255.3" y2="689" stroke="#7c7478" stroke-width="1.8" stroke-linecap="butt"/>
<line x1="1354.4" y1="356" x2="1354.4" y2="689" stroke="#505054" stroke-width="2.3" stroke-linecap="butt"/>
<line x1="1564.1" y1="357" x2="1564.1" y2="689" stroke="#56565a" stroke-width="2.2" stroke-linecap="butt"/>
<polyline points="1565.2,359 1722.3,359 1722.3,689" fill="none" stroke="#bbbbbb" stroke-width="2.4"/>
<line x1="1255.6" y1="356" x2="1255.6" y2="441" stroke="#000" stroke-width="3" stroke-linecap="butt"/>
<line x1="1255.6" y1="479.5" x2="1255.6" y2="563.3" stroke="#000" stroke-width="3" stroke-linecap="butt"/>
<line x1="1255.6" y1="599.4" x2="1255.6" y2="689.5" stroke="#000" stroke-width="3" stroke-linecap="butt"/>
<path d="M1255.0 357.9 L1271.0 357.9 1275.0 359.6 1279.0 361.1 1283.0 362.6 1287.0 363.9 1291.0 365.2 1295.0 366.4 1299.0 367.6 1303.0 368.7 1307.0 369.7 1311.0 370.7 1315.0 371.7 1319.0 372.6 1323.0 373.5 1327.0 374.3 1331.0 375.2 1335.0 376.0 1339.0 376.9 1343.0 377.7 1347.0 378.5 1351.0 379.4 1355.0 380.3 1359.0 381.1 1363.0 382.0 1367.0 383.0 1371.0 383.9 1375.0 384.8 1379.0 385.8 1383.0 386.8 1387.0 387.8 1391.0 388.8 1395.0 389.8 1399.0 390.8 1403.0 391.9 1407.0 392.9 1411.0 394.0 1415.0 395.0 1419.0 396.1 1423.0 397.1 1427.0 398.2 1431.0 399.2 1435.0 400.3 1439.0 401.3 1443.0 402.3 1447.0 403.4 1451.0 404.3 1455.0 405.3 1459.0 406.2 1463.0 407.1 1467.0 408.0 1471.0 408.9 1475.0 409.7 1479.0 410.4 1483.0 411.2 1487.0 411.8 1491.0 412.5 1495.0 413.1 1499.0 413.7 1503.0 414.2 1507.0 414.8 1511.0 415.3 1515.0 415.7 1519.0 416.2 1523.0 416.7 1527.0 417.1 1531.0 417.5 1535.0 417.9 1539.0 418.4 1543.0 418.8 1547.0 419.2 1551.0 419.6 1555.0 420.1 1559.0 420.5 1563.0 421.0 1567.0 421.5 1571.0 422.0 1575.0 422.5 1579.0 423.0 1583.0 423.6 1587.0 424.1 1591.0 424.7 1595.0 425.3 1599.0 425.9 1603.0 426.5 1607.0 427.1 1611.0 427.7 1615.0 428.4 1619.0 429.0 1623.0 429.6 1627.0 430.3 1631.0 431.0 1635.0 431.6 1639.0 432.3 1643.0 432.9 1647.0 433.6 1651.0 434.3 1655.0 434.9 1659.0 435.6 1663.0 436.2 1667.0 436.9 1671.0 437.5 1675.0 438.2 1679.0 438.8 1683.0 439.5 1687.0 440.1 1691.0 440.7 1695.0 441.3 1699.0 441.9 1703.0 442.5 1707.0 443.0 1708.0 443.2" fill="none" stroke="#000" stroke-width="2.3" stroke-linejoin="round"/>
<path d="M1255.0 481.3 L1277.0 481.3 1281.0 482.6 1285.0 484.0 1289.0 485.2 1293.0 486.5 1297.0 487.7 1301.0 488.8 1305.0 490.0 1309.0 491.0 1313.0 492.1 1317.0 493.1 1321.0 494.0 1325.0 494.9 1329.0 495.8 1333.0 496.6 1337.0 497.5 1341.0 498.3 1345.0 499.2 1349.0 500.0 1353.0 500.9 1357.0 501.8 1361.0 502.7 1365.0 503.7 1369.0 504.6 1373.0 505.6 1377.0 506.6 1381.0 507.7 1385.0 508.7 1389.0 509.8 1393.0 510.8 1397.0 511.9 1401.0 513.0 1405.0 514.0 1409.0 515.1 1413.0 516.2 1417.0 517.3 1421.0 518.3 1425.0 519.4 1429.0 520.4 1433.0 521.4 1437.0 522.4 1441.0 523.4 1445.0 524.4 1449.0 525.4 1453.0 526.3 1457.0 527.2 1461.0 528.1 1465.0 529.0 1469.0 529.8 1473.0 530.7 1477.0 531.5 1481.0 532.3 1485.0 533.1 1489.0 533.8 1493.0 534.6 1497.0 535.3 1501.0 536.1 1505.0 536.8 1509.0 537.5 1513.0 538.2 1517.0 538.9 1521.0 539.5 1525.0 540.2 1529.0 540.8 1533.0 541.5 1537.0 542.1 1541.0 542.7 1545.0 543.3 1549.0 543.9 1553.0 544.5 1557.0 545.1 1561.0 545.6 1565.0 546.2 1569.0 546.8 1573.0 547.3 1577.0 547.8 1581.0 548.4 1585.0 548.9 1589.0 549.4 1593.0 550.0 1597.0 550.5 1601.0 551.0 1605.0 551.5 1609.0 552.0 1613.0 552.5 1617.0 553.1 1621.0 553.6 1625.0 554.1 1629.0 554.6 1633.0 555.1 1637.0 555.6 1641.0 556.1 1645.0 556.6 1649.0 557.1 1653.0 557.6 1657.0 558.1 1661.0 558.7 1665.0 559.2 1669.0 559.7 1673.0 560.3 1677.0 560.8 1681.0 561.3 1685.0 561.9 1689.0 562.4 1693.0 563.0 1697.0 563.6 1701.0 564.1 1705.0 564.7 1708.0 565.2" fill="none" stroke="#000" stroke-width="2.3" stroke-linejoin="round"/>
<path d="M1255.0 601.2 L1273.0 601.2 1277.0 604.2 1281.0 606.9 1285.0 609.2 1289.0 611.3 1293.0 613.1 1297.0 614.7 1301.0 616.1 1305.0 617.5 1309.0 618.8 1313.0 620.0 1317.0 621.3 1321.0 622.6 1325.0 624.0 1329.0 625.3 1333.0 626.7 1337.0 628.1 1341.0 629.5 1345.0 630.8 1349.0 632.2 1353.0 633.5 1357.0 634.7 1361.0 636.0 1365.0 637.2 1369.0 638.3 1373.0 639.5 1377.0 640.6 1381.0 641.7 1385.0 642.8 1389.0 643.9 1393.0 645.0 1397.0 646.1 1401.0 647.2 1405.0 648.3 1409.0 649.5 1413.0 650.6 1417.0 651.8 1421.0 653.0 1425.0 654.2 1429.0 655.3 1433.0 656.5 1437.0 657.6 1441.0 658.6 1445.0 659.6 1449.0 660.5 1453.0 661.5 1457.0 662.3 1461.0 663.2 1465.0 664.0 1469.0 664.8 1473.0 665.7 1477.0 666.5 1481.0 667.3 1485.0 668.2 1489.0 669.0 1493.0 669.9 1497.0 670.7 1501.0 671.5 1505.0 672.2 1509.0 672.9 1513.0 673.6 1517.0 674.2 1521.0 674.7 1525.0 675.1 1529.0 675.4 1533.0 675.7 1537.0 676.0 1541.0 676.2 1545.0 676.3 1549.0 676.5 1553.0 676.6 1557.0 676.7 1561.0 676.8 1565.0 676.9 1569.0 677.0 1573.0 677.2 1577.0 677.3 1581.0 677.5 1585.0 677.7 1589.0 677.9 1593.0 678.1 1597.0 678.3 1601.0 678.6 1605.0 678.8 1609.0 679.1 1613.0 679.4 1617.0 679.7 1621.0 680.0 1625.0 680.3 1629.0 680.6 1633.0 680.9 1637.0 681.2 1641.0 681.6 1645.0 681.9 1649.0 682.2 1653.0 682.6 1657.0 682.9 1661.0 683.3 1665.0 683.7 1669.0 684.0 1673.0 684.4 1677.0 684.8 1681.0 685.1 1685.0 685.5 1689.0 685.9 1693.0 686.2 1697.0 686.6 1701.0 687.0 1705.0 687.3 1708.0 687.6" fill="none" stroke="#000" stroke-width="2.3" stroke-linejoin="round"/>
<line x1="1255" y1="358" x2="1272.4" y2="358" stroke="#6a0a0c" stroke-width="4.6" stroke-linecap="butt"/>
<line x1="1255" y1="439.4" x2="1272.4" y2="439.4" stroke="#6a0a0c" stroke-width="4.6" stroke-linecap="butt"/>
<line x1="1255" y1="481.3" x2="1272.4" y2="481.3" stroke="#6a0a0c" stroke-width="4.6" stroke-linecap="butt"/>
<line x1="1255" y1="561.5" x2="1272.4" y2="561.5" stroke="#6a0a0c" stroke-width="4.6" stroke-linecap="butt"/>
<line x1="1255" y1="601.2" x2="1272.4" y2="601.2" stroke="#6a0a0c" stroke-width="4.6" stroke-linecap="butt"/>
<line x1="1254.3" y1="688.3" x2="1722.2" y2="690.2" stroke="#000" stroke-width="2.4" stroke-linecap="butt"/>
<text transform="translate(1186.00 366.03) scale(0.6398 1)" font-family='"Liberation Serif", serif' font-size="24.85" fill="#111" stroke="#111" stroke-width="0.3">0.99995%</text>
<text transform="translate(1186.00 444.54) scale(0.6593 1)" font-family='"Liberation Serif", serif' font-size="24.12" fill="#111" stroke="#111" stroke-width="0.3">0.99902%</text>
<text transform="translate(1186.00 494.43) scale(0.6513 1)" font-family='"Liberation Serif", serif' font-size="24.41" fill="#111" stroke="#111" stroke-width="0.3">0.99995%</text>
<text transform="translate(1186.00 565.14) scale(0.6553 1)" font-family='"Liberation Serif", serif' font-size="24.26" fill="#111" stroke="#111" stroke-width="0.3">0.99903%</text>
<text transform="translate(1186.00 611.03) scale(0.6513 1)" font-family='"Liberation Serif", serif' font-size="24.41" fill="#111" stroke="#111" stroke-width="0.3">0.99997%</text>
<text transform="translate(1186.00 687.73) scale(0.6513 1)" font-family='"Liberation Serif", serif' font-size="24.41" fill="#111" stroke="#111" stroke-width="0.3">0.99958%</text>
<text transform="translate(1258.16 712.80) scale(0.5317 1)" font-family='"Liberation Serif", serif' font-size="24.55" fill="#111" stroke="#111" stroke-width="0.3">1</text>
<text transform="translate(1325.96 712.56) scale(0.6731 1)" font-family='"Liberation Serif", serif' font-size="24.36" fill="#111" stroke="#111" stroke-width="0.3">5</text>
<text transform="translate(1393.10 712.56) scale(0.6409 1)" font-family='"Liberation Serif", serif' font-size="24.09" fill="#111" stroke="#111" stroke-width="0.3">9</text>
<text transform="translate(1456.45 711.26) scale(0.6423 1)" font-family='"Liberation Serif", serif' font-size="24.09" fill="#111" stroke="#111" stroke-width="0.3">13</text>
<text transform="translate(1525.02 712.10) scale(0.6445 1)" font-family='"Liberation Serif", serif' font-size="24.55" fill="#111" stroke="#111" stroke-width="0.3">17</text>
<text transform="translate(1591.14 712.50) scale(0.6379 1)" font-family='"Liberation Serif", serif' font-size="24.45" fill="#111" stroke="#111" stroke-width="0.3">21</text>
<text transform="translate(1656.21 712.86) scale(0.6696 1)" font-family='"Liberation Serif", serif' font-size="24.09" fill="#111" stroke="#111" stroke-width="0.3">25</text>
<text transform="translate(1722.14 710.26) scale(0.6425 1)" font-family='"Liberation Serif", serif' font-size="24.09" fill="#111" stroke="#111" stroke-width="0.3">29</text>
<text transform="translate(1654.04 411.40) scale(0.7082 1)" font-family='"Liberation Serif", serif' font-size="23.55" fill="#111" stroke="#111" stroke-width="0.3">12</text>
<text transform="translate(1654.16 531.20) scale(0.6489 1)" font-family='"Liberation Serif", serif' font-size="23.64" fill="#111" stroke="#111" stroke-width="0.3">11</text>
<text transform="translate(1654.07 653.87) scale(0.7071 1)" font-family='"Liberation Serif", serif' font-size="23.11" fill="#111" stroke="#111" stroke-width="0.3">10</text>
<text transform="translate(1478.43 729.43) scale(1.1851 1)" font-family='"Liberation Sans", sans-serif' font-size="29.12" fill="#222" stroke="#fff" stroke-width="0.7">t</text>
<text transform="translate(1487.57 350.33) scale(0.6538 1)" font-family='"Liberation Serif", serif' font-size="37.02" fill="#000" stroke="#000" stroke-width="0.2">(C)</text>
<text transform="translate(1172.70 581.46) rotate(-90) scale(1.0967 1)" font-family='"Liberation Serif", serif' font-size="31.76" fill="#000" stroke="#000" stroke-width="0.2">Porosity</text>
</g>
<g id="legend">
<rect x="180.6" y="755.9" width="90.30" height="55.40" fill="#ee7777" stroke="#6c6c6e" stroke-width="2.2"/>
<text x="296.59" y="789.90" font-family='"Liberation Serif", serif' font-size="29.39" fill="#000" stroke="#000" stroke-width="0.2">Elastic accumulation stage</text>
<rect x="623.9" y="755.9" width="106.00" height="55.40" fill="#7269b8" stroke="#6a6a6e" stroke-width="2.2"/>
<text x="737.99" y="790.30" font-family='"Liberation Serif", serif' font-size="29.34" fill="#000" stroke="#000" stroke-width="0.2">Nonlinear deformation</text>
<rect x="1021.4" y="757.7" width="121.50" height="52.80" fill="#c8f3de" stroke="#c0c0c0" stroke-width="2.6"/>
<text x="1160.39" y="793.70" font-family='"Liberation Serif", serif' font-size="29.39" fill="#000" stroke="#000" stroke-width="0.2">Hardening stage-expansion-rupture stage</text>
</g>
</svg>
</body>
</html>
